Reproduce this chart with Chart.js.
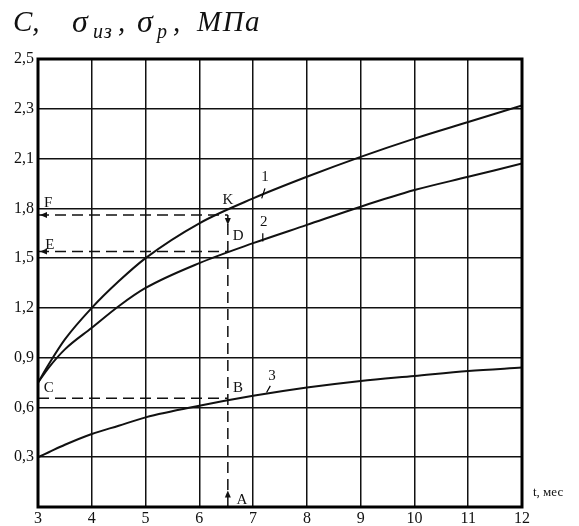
<!DOCTYPE html>
<html>
<head>
<meta charset="utf-8">
<script src="https://cdn.jsdelivr.net/npm/chart.js@4.4.0/dist/chart.umd.min.js"></script>
<style>
  html, body { margin: 0; padding: 0; background: #fff; }
  #wrap { position: relative; width: 579px; height: 526px; }
  .tt { position: absolute; top: 7px; font: italic 29px "Liberation Serif", serif; line-height: 1; color: #111; white-space: pre; }
  .tt.sig { top: 5px; font-size: 32px; }
  .tt.sub { top: 21px; font-size: 20px; letter-spacing: 1px; }
  #tlabel { position: absolute; left: 533px; top: 484px; font: 13px "Liberation Serif", serif; color: #111; }
</style>
</head>
<body>
<div id="wrap">
  <canvas id="chart" width="579" height="526"></canvas>
  <div class="tt" style="left:13px">C,</div>
  <div class="tt sig" style="left:72px">σ</div>
  <div class="tt sub" style="left:93px">из</div>
  <div class="tt" style="left:118px">,</div>
  <div class="tt sig" style="left:137px">σ</div>
  <div class="tt sub" style="left:157px">р</div>
  <div class="tt" style="left:173px">,</div>
  <div class="tt" style="left:197px; letter-spacing:1.5px">МПа</div>
  <div id="tlabel">t, мес</div>
</div>
<script>
// time, months
const tValues = [3, 3.2, 3.5, 4, 4.5, 5, 6, 7, 8, 9, 10, 11, 12];
// curve 1, 2, 3 (grid units: 0.3 per division)
const curve1 = [0.75, 0.86, 1.01, 1.20, 1.36, 1.50, 1.71, 1.86, 1.99, 2.11, 2.22, 2.32, 2.42];
const curve2 = [0.75, 0.84, 0.95, 1.08, 1.21, 1.32, 1.47, 1.59, 1.70, 1.81, 1.91, 1.99, 2.07];
const curve3 = [0.30, 0.33, 0.375, 0.44, 0.49, 0.54, 0.61, 0.67, 0.72, 0.76, 0.79, 0.82, 0.84];

const yTickLabels = ['', '0,3', '0,6', '0,9', '1,2', '1,5', '1,8', '2,1', '2,3', '2,5'];

// guide lines A-B-D-K and C, E, F
const guideT = 6.53;
const levelF = 1.76;
const levelE = 1.54;
const levelC = 0.655;

// letters on the plot
const marks = [
  { text: 'F', t: 3.19, v: 1.83 },
  { text: 'E', t: 3.22, v: 1.58 },
  { text: 'C', t: 3.20, v: 0.714 },
  { text: 'K', t: 6.53, v: 1.85 },
  { text: 'D', t: 6.72, v: 1.63 },
  { text: 'B', t: 6.72, v: 0.714 },
  { text: 'A', t: 6.79, v: 0.04 },
  { text: '1', t: 7.22, v: 1.99 },
  { text: '2', t: 7.20, v: 1.72 },
  { text: '3', t: 7.35, v: 0.79 }
];

function pts(ys) { return tValues.map((t, i) => ({ x: t, y: ys[i] })); }

const curveStyle = { borderColor: '#111', borderWidth: 2, pointRadius: 0, fill: false, cubicInterpolationMode: 'monotone' };
const dashStyle = { borderColor: '#111', borderWidth: 1.5, borderDash: [11, 6], pointRadius: 0, fill: false };

const extras = {
  id: 'extras',
  afterDatasetsDraw(chart) {
    const ctx = chart.ctx, a = chart.chartArea;
    const xs = chart.scales.x, ys = chart.scales.y;
    ctx.save();
    ctx.strokeStyle = '#000';
    ctx.lineWidth = 3;
    ctx.strokeRect(a.left, a.top, a.right - a.left, a.bottom - a.top);

    // arrow heads
    ctx.fillStyle = '#111';
    const arrow = (x, y, dx, dy) => {
      ctx.beginPath();
      ctx.moveTo(x, y);
      ctx.lineTo(x - dx * 7 - dy * 3, y - dy * 7 - dx * 3);
      ctx.lineTo(x - dx * 7 + dy * 3, y - dy * 7 + dx * 3);
      ctx.closePath();
      ctx.fill();
    };
    arrow(xs.getPixelForValue(3) + 2, ys.getPixelForValue(levelF), -1, 0);
    arrow(xs.getPixelForValue(3) + 2, ys.getPixelForValue(levelE), -1, 0);
    arrow(xs.getPixelForValue(guideT), ys.getPixelForValue(0.1), 0, -1);
    arrow(xs.getPixelForValue(guideT), ys.getPixelForValue(levelF) + 10, 0, 1);

    // letters
    ctx.font = '15px "Liberation Serif", serif';
    ctx.textAlign = 'center';
    ctx.textBaseline = 'middle';
    marks.forEach(m => ctx.fillText(m.text, xs.getPixelForValue(m.t), ys.getPixelForValue(m.v)));

    // leader ticks for curve numbers
    ctx.lineWidth = 1.2;
    ctx.beginPath();
    [[7.22, 1.92, 7.16, 1.86], [7.18, 1.65, 7.18, 1.60], [7.32, 0.73, 7.25, 0.69]].forEach(s => {
      ctx.moveTo(xs.getPixelForValue(s[0]), ys.getPixelForValue(s[1]));
      ctx.lineTo(xs.getPixelForValue(s[2]), ys.getPixelForValue(s[3]));
    });
    ctx.stroke();
    ctx.restore();
  }
};

new Chart(document.getElementById('chart'), {
  type: 'line',
  data: {
    datasets: [
      Object.assign({ data: pts(curve1) }, curveStyle),
      Object.assign({ data: pts(curve2) }, curveStyle),
      Object.assign({ data: pts(curve3) }, curveStyle),
      Object.assign({ data: [{ x: 3, y: levelF }, { x: guideT, y: levelF }] }, dashStyle),
      Object.assign({ data: [{ x: 3, y: levelE }, { x: guideT, y: levelE }] }, dashStyle),
      Object.assign({ data: [{ x: 3, y: levelC }, { x: guideT, y: levelC }] }, dashStyle),
      Object.assign({ data: [{ x: guideT, y: 0 }, { x: guideT, y: levelF }] }, dashStyle)
    ]
  },
  options: {
    responsive: false,
    animation: false,
    layout: { padding: { top: 59, right: 57, left: 0, bottom: 0 } },
    plugins: { legend: { display: false }, tooltip: { enabled: false } },
    scales: {
      x: {
        type: 'linear', min: 3, max: 12,
        afterFit(s) { s.height = 19; },
        grid: { color: '#111', lineWidth: 1.5, drawTicks: false },
        border: { display: false },
        ticks: { stepSize: 1, color: '#111', padding: 2, maxRotation: 0, font: { family: '"Liberation Serif", serif', size: 16 } }
      },
      y: {
        type: 'linear', min: 0, max: 2.7,
        afterFit(s) { s.width = 38; },
        grid: { color: '#111', lineWidth: 1.5, drawTicks: false },
        border: { display: false },
        ticks: {
          stepSize: 0.3, color: '#111', padding: 4,
          font: { family: '"Liberation Serif", serif', size: 16 },
          callback: (v, i) => yTickLabels[i]
        }
      }
    }
  },
  plugins: [extras]
});
</script>
</body>
</html>
